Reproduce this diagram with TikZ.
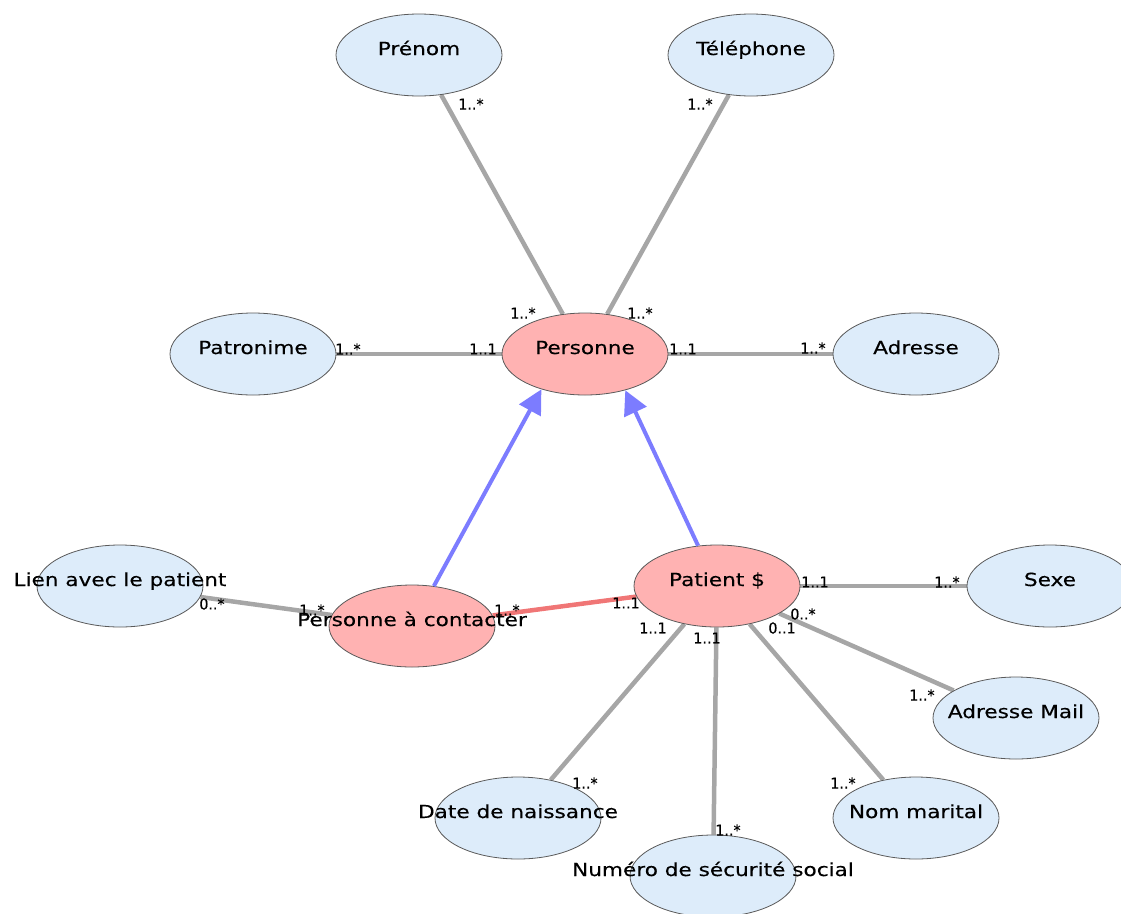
\documentclass[tikz,border=0pt]{standalone}
\usepackage{fontspec}
\setmainfont[FakeStretch=1.2,FakeBold=0.35]{DejaVu Sans}
\newfontfamily\lblfont[FakeStretch=0.95,FakeBold=0.3]{DejaVu Sans}
\usetikzlibrary{shapes.geometric,arrows.meta,backgrounds}
\definecolor{attrfill}{RGB}{221,236,250}
\definecolor{entfill}{RGB}{255,178,178}
\definecolor{edgegray}{RGB}{90,90,90}
\definecolor{linkgray}{RGB}{166,166,166}
\definecolor{linkred}{RGB}{240,118,118}
\definecolor{genblue}{RGB}{124,124,255}
\tikzset{
  ell/.style={ellipse, draw=edgegray, line width=0.8pt, minimum width=166pt, minimum height=82pt, inner sep=0pt},
  attr/.style={ell, fill=attrfill},
  ent/.style={ell, fill=entfill},
  etext/.style={font=\fontsize{18}{20}\selectfont, text=black, anchor=base, inner sep=0pt},
  mult/.style={font=\lblfont\fontsize{15}{16}\selectfont, text=black, inner sep=0pt},
  assoc/.style={draw=linkgray, line width=4.5pt},
  assocred/.style={draw=linkred, line width=4.5pt},
  gen/.style={draw=genblue, line width=4pt, -{Triangle[length=24pt,width=24pt,fill=genblue]}}
}
\begin{document}
\begin{tikzpicture}[x=1pt,y=-1pt]
\useasboundingbox (0,0) rectangle (1121,913);
% entity and attribute ellipses
\node[attr] (prenom) at (419,55) {};
\node[attr] (tel) at (751,55) {};
\node[attr] (patro) at (253,354) {};
\node[ent] (pers) at (585,354) {};
\node[attr] (adr) at (916,354) {};
\node[attr] (lien) at (120,586) {};
\node[ent] (pac) at (412,626) {};
\node[ent] (pat) at (717,586) {};
\node[attr] (sexe) at (1050,586) {};
\node[attr] (mail) at (1016,718) {};
\node[attr] (date) at (518,818) {};
\node[attr] (num) at (713,876) {};
\node[attr] (nom) at (916,818) {};
% connectors
\begin{scope}[on background layer]
\draw[assoc] (prenom) -- (pers);
\draw[assoc] (tel) -- (pers);
\draw[assoc] (patro) -- (pers);
\draw[assoc] (adr) -- (pers);
\draw[assoc] (lien) -- (pac);
\draw[assocred] (pac) -- (pat);
\draw[assoc] (sexe) -- (pat);
\draw[assoc] (mail) -- (pat);
\draw[assoc] (date) -- (pat);
\draw[assoc] (num) -- (pat);
\draw[assoc] (nom) -- (pat);
\end{scope}
\draw[gen] (pac) -- (pers.219);
\draw[gen] (pat) -- (pers.318);
% names
\node[etext] (prenom-t) at (prenom.center) {Prénom};
\node[etext] (tel-t) at (tel.center) {Téléphone};
\node[etext] (patro-t) at (patro.center) {Patronime};
\node[etext] (pers-t) at (pers.center) {Personne};
\node[etext] (adr-t) at (adr.center) {Adresse};
\node[etext] (lien-t) at (lien.center) {Lien avec le patient};
\node[etext] (pac-t) at (pac.center) {Personne à contacter};
\node[etext] (pat-t) at (pat.center) {Patient \$};
\node[etext] (sexe-t) at (sexe.center) {Sexe};
\node[etext] (mail-t) at (mail.center) {Adresse Mail};
\node[etext] (date-t) at (date.center) {Date de naissance};
\node[etext] (num-t) at (num.center) {Numéro de sécurité social};
\node[etext] (nom-t) at (nom.center) {Nom marital};
% multiplicities
\node[mult] (m1) at (471,104) {1..*};
\node[mult] (m2) at (700,104) {1..*};
\node[mult] (m3) at (523,313) {1..*};
\node[mult] (m4) at (640,313) {1..*};
\node[mult] (m5) at (348,349) {1..*};
\node[mult] (m6) at (483,349) {1..1};
\node[mult] (m7) at (683,349) {1..1};
\node[mult] (m8) at (813,348) {1..*};
\node[mult] (m9) at (212,604) {0..*};
\node[mult] (m10) at (312,610) {1..*};
\node[mult] (m11) at (507,610) {1..*};
\node[mult] (m12) at (626,603) {1..1};
\node[mult] (m13) at (815,582) {1..1};
\node[mult] (m14) at (947,582) {1..*};
\node[mult] (m15) at (803,614) {0..*};
\node[mult] (m16) at (782,628) {0..1};
\node[mult] (m17) at (653,628) {1..1};
\node[mult] (m18) at (707,638) {1..1};
\node[mult] (m19) at (922,695) {1..*};
\node[mult] (m20) at (585,783) {1..*};
\node[mult] (m21) at (728,830) {1..*};
\node[mult] (m22) at (843,783) {1..*};
\end{tikzpicture}
\end{document}
